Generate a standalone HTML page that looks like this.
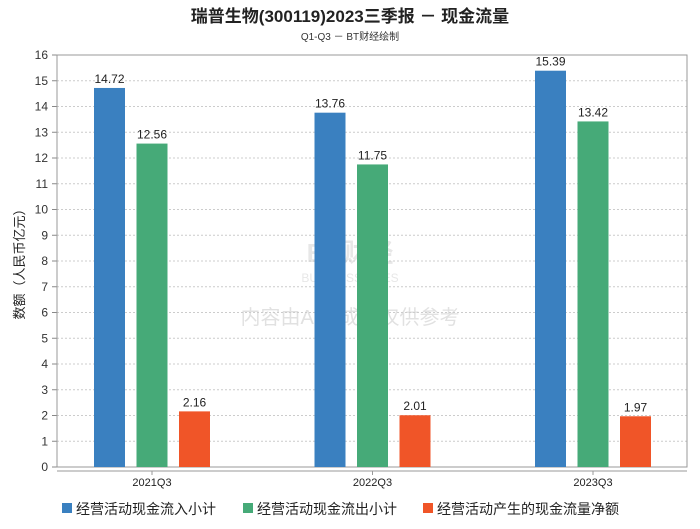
<!DOCTYPE html>
<html><head><meta charset="utf-8"><style>
body{margin:0;background:#fff;font-family:"Liberation Sans","Noto Sans CJK SC",sans-serif}
svg text{font-family:"Liberation Sans","Noto Sans CJK SC",sans-serif}
</style></head><body>
<svg id="c" width="700" height="524">
<text x="350" y="22" text-anchor="middle" font-size="17" font-weight="bold" fill="#222">瑞普生物(300119)2023三季报 － 现金流量</text>
<text x="350" y="40" text-anchor="middle" font-size="10" fill="#333">Q1-Q3 － BT财经绘制</text>
<g opacity="0.35">
<text x="350" y="262" text-anchor="middle" font-size="26" font-weight="bold" fill="#bbb" font-family="Liberation Serif">BT财经</text>
<text x="350" y="282" text-anchor="middle" font-size="12" fill="#bbb">BUSINESSTIMES</text>
<text x="350" y="324" text-anchor="middle" font-size="20" fill="#aaa">内容由AI生成，仅供参考</text>
</g>
<text transform="translate(24,261) rotate(-90)" text-anchor="middle" font-size="13" fill="#222">数额（人民币亿元）</text>
<g id="grid"></g><g id="bars"></g>
<g font-size="14" fill="#222">
<rect x="62" y="503" width="10" height="10" fill="#3a80c0"/>
<text x="76" y="514">经营活动现金流入小计</text>
<rect x="243" y="503" width="10" height="10" fill="#46aa78"/>
<text x="257" y="514">经营活动现金流出小计</text>
<rect x="423" y="503" width="10" height="10" fill="#f05528"/>
<text x="437" y="514">经营活动产生的现金流量净额</text>
</g>
</svg>
<script>
const categories=["2021Q3","2022Q3","2023Q3"];
const inflow=[14.72,13.76,15.39];
const outflow=[12.56,11.75,13.42];
const net=[2.16,2.01,1.97];
const yTicks=[0,1,2,3,4,5,6,7,8,9,10,11,12,13,14,15,16];
const NS="http://www.w3.org/2000/svg";
const L=57,R=687,T=55,B=467;
const y=v=>B-(v/16)*(B-T);
const xc=i=>152+i*220.5;
function mk(tag,attrs,parent){const e=document.createElementNS(NS,tag);for(const k in attrs)e.setAttribute(k,attrs[k]);parent.appendChild(e);return e;}
const g=document.getElementById('grid'),b=document.getElementById('bars');
yTicks.forEach(t=>{
 const ln=mk('line',{x1:L,x2:R,y1:y(t),y2:y(t),stroke:'#ccc','stroke-dasharray':'2,2'},g);
 
 
 const tk=mk('line',{x1:L-5,x2:L,y1:y(t),y2:y(t),stroke:'#888'},g);
 
 
 const tx=mk('text',{x:L-9,y:y(t)+4,'text-anchor':'end','font-size':12,fill:'#333'},g);
 tx.textContent=t;
 
 
});
const fr=mk('rect',{x:L,y:T,width:R-L,height:B-T,fill:'none',stroke:'#999'},g);


const xa=mk('line',{x1:L,x2:R,y1:B+4,y2:B+4,stroke:'#999'},g);


const series=[[inflow,'#3a80c0',-42.5],[outflow,'#46aa78',0],[net,'#f05528',42.5]];
categories.forEach((c,i)=>{
 const tx=mk('text',{x:xc(i),y:486,'text-anchor':'middle','font-size':11,fill:'#222'},g);
 tx.textContent=c;
 
 
 const tk=mk('line',{x1:xc(i),x2:xc(i),y1:B+4,y2:B+8,stroke:'#999'},g);
 
 
 series.forEach(([arr,col,off])=>{
  const v=arr[i];
  const r=mk('rect',{x:xc(i)+off-15.5,y:y(v),width:31,height:B-y(v),fill:col},b);
  
  
  const lb=mk('text',{x:xc(i)+off,y:y(v)-5,'text-anchor':'middle','font-size':12,fill:'#222'},b);
  lb.textContent=v.toFixed(2);
  
  
 });
});
</script>
</body></html>
